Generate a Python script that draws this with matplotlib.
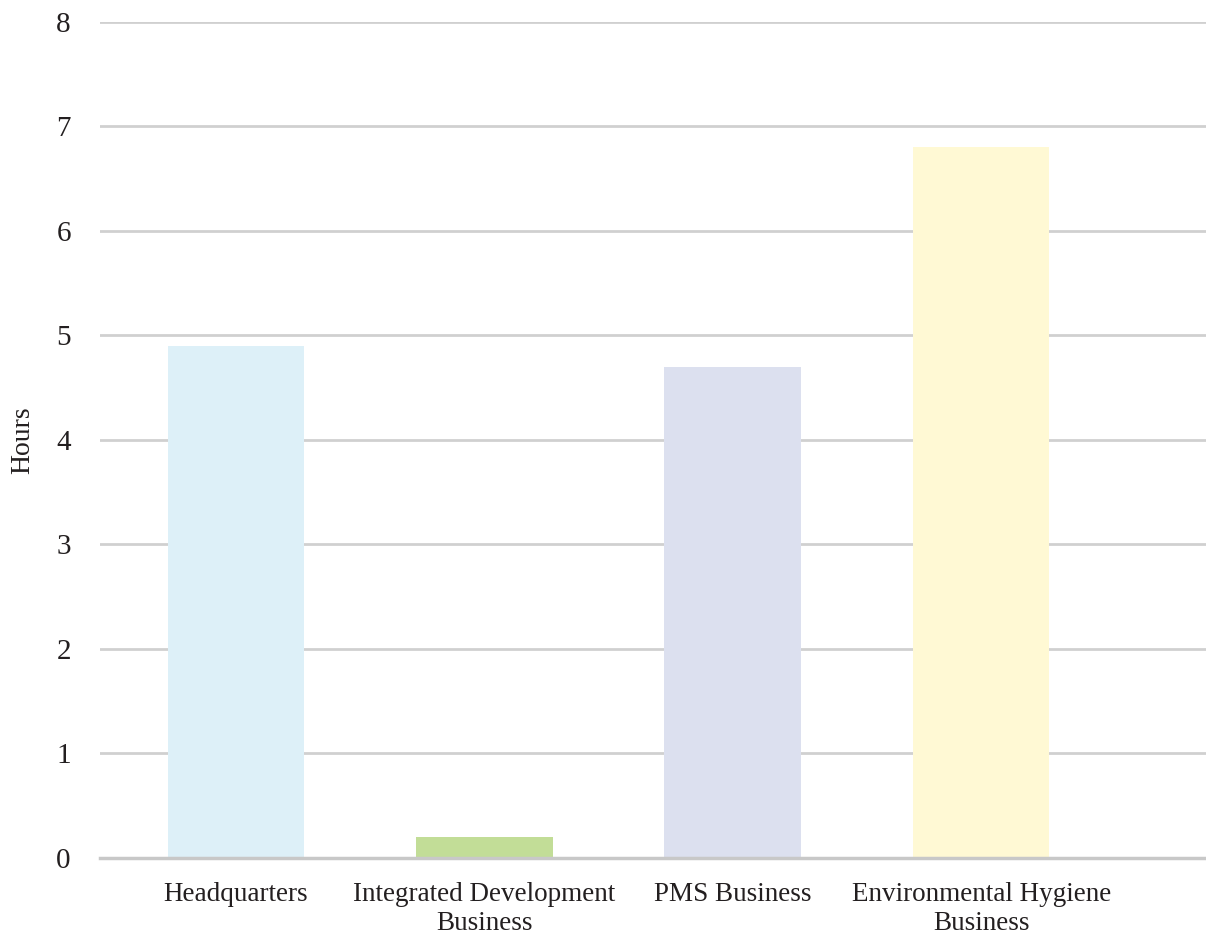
import matplotlib.pyplot as plt

categories = ['Headquarters', 'Integrated Development\nBusiness', 'PMS Business',
              'Environmental Hygiene\nBusiness']
hours = [4.9, 0.2, 4.7, 6.8]
bar_colors = ['#DDF0F8', '#C2DD97', '#DCE0EF', '#FFF9D4']
y_ticks = list(range(0, 9))

plt.rcParams['font.family'] = ['Liberation Serif', 'DejaVu Serif']
text_color = '#231F20'

fig = plt.figure(figsize=(12.06, 9.35), dpi=100)
ax = fig.add_axes([0.0829, 0.0824, 0.9171, 0.8941])

x = list(range(len(categories)))
ax.bar(x, hours, width=0.55, color=bar_colors, zorder=3)

ax.set_xlim(-0.547, 3.905)
ax.set_ylim(0, 8)
ax.set_yticks(y_ticks)
ax.set_xticks(x)
ax.set_xticklabels(categories, fontsize=19.5, color=text_color, linespacing=1.22)
ax.tick_params(axis='y', labelsize=21, labelcolor=text_color, length=0, pad=21)
ax.tick_params(axis='x', length=0, pad=17)

ax.grid(axis='y', color='#D0D0D0', lw=2, zorder=0)
for s in ['top', 'right', 'left']:
    ax.spines[s].set_visible(False)
ax.spines['bottom'].set_color('#C8C8C8')
ax.spines['bottom'].set_linewidth(2.5)
ax.spines['bottom'].set_zorder(4)

ax.set_ylabel('Hours', fontsize=20, color=text_color, labelpad=15)

fig.savefig('out.png', dpi=100)
